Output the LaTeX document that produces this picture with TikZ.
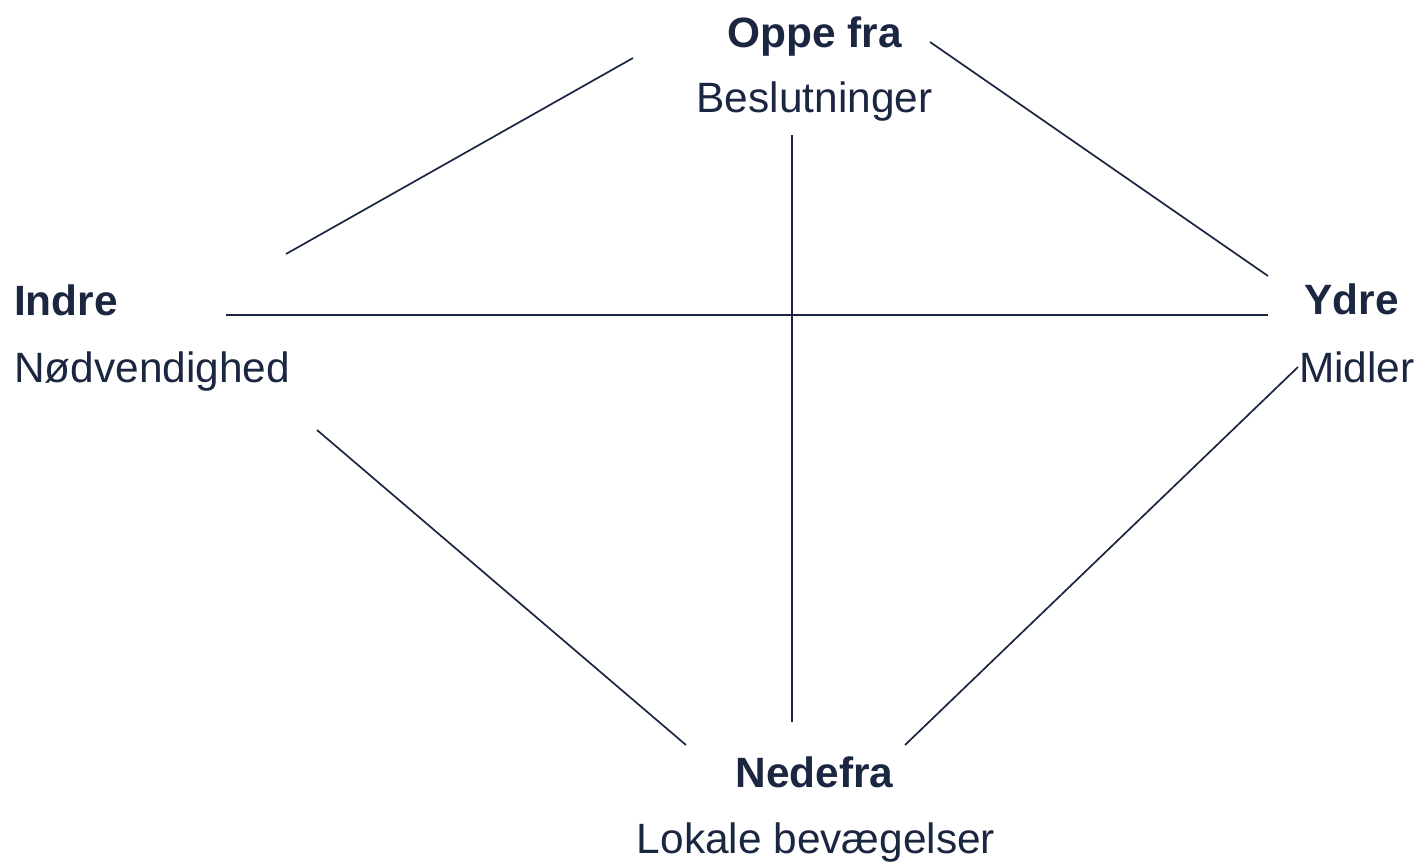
\documentclass[tikz,border=0pt]{standalone}
\usepackage{fontspec}
\setmainfont{Liberation Sans}
\definecolor{ink}{HTML}{1B2640}
\begin{document}
\begin{tikzpicture}[x=1pt,y=-1pt,
  lbl/.style={inner sep=0pt,text=ink,font=\fontsize{42.4}{50}\selectfont},
  blbl/.style={lbl,font=\fontsize{42.4}{50}\selectfont\bfseries},
  conn/.style={draw=ink,line width=1.7pt}]
\useasboundingbox (0,0) rectangle (1418,863);
\node[blbl,anchor=base] (oppe) at (814.5,47) {Oppe fra};
\node[lbl,anchor=base] (besl) at (814.5,112) {Beslutninger};
\node[blbl,anchor=base west] (indre) at (14,315) {Indre};
\node[lbl,anchor=base west] (nod) at (14,382) {Nødvendighed};
\node[blbl,anchor=base east] (ydre) at (1399,314) {Ydre};
\node[lbl,anchor=base west] (midler) at (1299,382) {Midler};
\node[blbl,anchor=base] (nede) at (814.5,787) {Nedefra};
\node[lbl,anchor=base] (lokale) at (816,853) {Lokale bevægelser};
\coordinate (tl1) at (633,58);
\coordinate (tl2) at (286,254);
\coordinate (tr1) at (930,42);
\coordinate (tr2) at (1268,276);
\coordinate (h1) at (226,315);
\coordinate (h2) at (1268,315);
\coordinate (v1) at (792,135);
\coordinate (v2) at (792,722);
\coordinate (bl1) at (317,430);
\coordinate (bl2) at (686,745);
\coordinate (br1) at (905,745);
\coordinate (br2) at (1298,367);
\draw[conn] (tl1) -- (tl2);
\draw[conn] (tr1) -- (tr2);
\draw[conn] (h1) -- (h2);
\draw[conn] (v1) -- (v2);
\draw[conn] (bl1) -- (bl2);
\draw[conn] (br1) -- (br2);
\end{tikzpicture}
\end{document}
